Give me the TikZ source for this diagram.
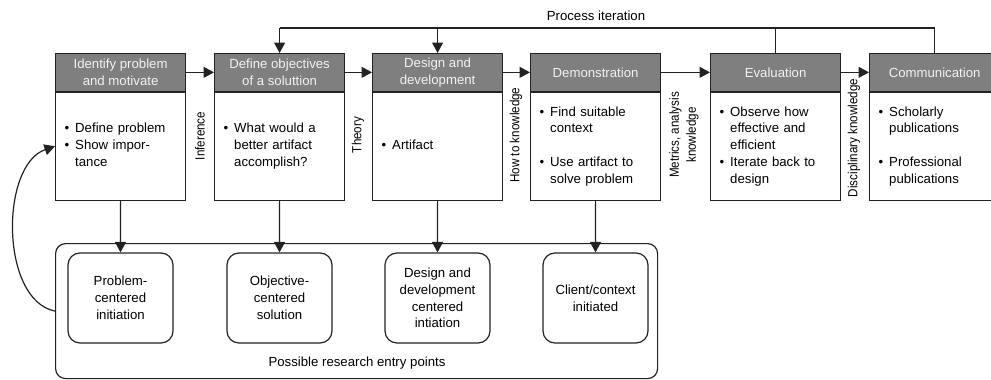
\documentclass[tikz,border=0pt]{standalone}
\usepackage{fontspec}
\setmainfont{Liberation Sans}
\usetikzlibrary{arrows.meta}

\definecolor{headgray}{HTML}{7F7F7F}
\definecolor{headtext}{HTML}{F2F2F2}
\definecolor{edge}{HTML}{222222}

\newcommand{\narrow}[1]{\scalebox{0.88}[1]{#1}}

\tikzset{
  line/.style={draw=edge, line width=1.2pt},
  tip/.style={line, -{Triangle[length=10.5pt,width=11pt]}},
  head/.style={line, fill=headgray, text=headtext, minimum width=130pt, minimum height=37.5pt,
    inner sep=0pt, anchor=north west, align=center},
  body/.style={line, text width=112pt, inner xsep=9pt, inner ysep=0pt, minimum height=108pt,
    anchor=north west, align=left},
  entry/.style={line, rounded corners=12pt, minimum width=105pt, minimum height=90pt,
    inner sep=2pt, align=center},
  side/.style={rotate=90, align=center, inner sep=0pt}
}

\begin{document}
\begin{tikzpicture}[x=1pt, y=-1pt, font=\fontsize{13.2}{16.8}\selectfont]

  \useasboundingbox (0,0) rectangle (991,380);

  % Headers of the six activities
  \node[head] (idh) at (55,53) {Identify problem\\and motivate};
  \node[head] (defh) at (214,53) {Define objectives\\of a soluttion};
  \node[head] (desh) at (372,53) {Design and\\development};
  \node[head] (demh) at (530,53) {Demonstration};
  \node[head] (evh) at (710,53) {Evaluation};
  \node[head] (comh) at (869,53) {Communication};

  % Bodies under the headers
  \node[body] (idb) at (idh.south west) {%
    \begin{tabular}{@{}l@{\hspace{6pt}}l@{}}
      \textbullet & Define problem\\
      \textbullet & Show impor-\\
                  & tance
    \end{tabular}};
  \node[body] (defb) at (defh.south west) {%
    \begin{tabular}{@{}l@{\hspace{6pt}}l@{}}
      \textbullet & What would a\\
                  & better artifact\\
                  & accomplish?
    \end{tabular}};
  \node[body] (desb) at (desh.south west) {%
    \begin{tabular}{@{}l@{\hspace{6pt}}l@{}}
      \textbullet & Artifact
    \end{tabular}};
  \node[body] (demb) at (demh.south west) {%
    \begin{tabular}{@{}l@{\hspace{6pt}}l@{}}
      \textbullet & Find suitable\\
                  & context\\
                  & \\
      \textbullet & Use artifact to\\
                  & solve problem
    \end{tabular}};
  \node[body] (evb) at (evh.south west) {%
    \begin{tabular}{@{}l@{\hspace{6pt}}l@{}}
      \textbullet & Observe how\\
                  & effective and\\
                  & efficient\\
      \textbullet & Iterate back to\\
                  & design
    \end{tabular}};
  \node[body] (comb) at (comh.south west) {%
    \begin{tabular}{@{}l@{\hspace{6pt}}l@{}}
      \textbullet & Scholarly\\
                  & publications\\
                  & \\
      \textbullet & Professional\\
                  & publications
    \end{tabular}};

  % Arrows between the headers
  \draw[tip] (idh.east) -- (defh.west);
  \draw[tip] (defh.east) -- (desh.west);
  \draw[tip] (desh.east) -- (demh.west);
  \draw[tip] (demh.east) -- (evh.west);
  \draw[tip] (evh.east) -- (comh.west);

  % Knowledge labels between the boxes
  \node[side] (inf) at (200,136) {\narrow{Inference}};
  \node[side] (thy) at (358,135) {\narrow{Theory}};
  \node[side] (how) at (516,135) {\narrow{How to knowledge}};
  \node[side] (met) at (684,135) {\narrow{\begin{tabular}{@{}c@{}}Metrics, analysis\\knowledge\end{tabular}}};
  \node[side] (dis) at (854,138) {\narrow{Disciplinary knowledge}};

  % Process iteration loop
  \coordinate (loop) at (596,28);
  \node (iter) at (596,16) {Process iteration};
  \draw[line] (comh.north) |- (defh.north |- loop);
  \draw[line] (evh.north) -- (evh.north |- loop);
  \draw[tip] (defh.north |- loop) -- (defh.north);
  \draw[tip] (desh.north |- loop) -- (desh.north);

  % Research entry points
  \node[line, rounded corners=10pt, minimum width=602pt, minimum height=135pt, anchor=north west]
    (entries) at (55,243) {};
  \node (epts) at (357,363) {Possible research entry points};

  \node[entry] (pci) at (120.5,298) {Problem-\\centered\\initiation};
  \node[entry] (ocs) at (279.5,298) {Objective-\\centered\\solution};
  \node[entry] (ddi) at (437.5,298) {Design and\\development\\centered\\intiation};
  \node[entry] (cci) at (595.5,298) {Client/context\\initiated};

  \draw[tip] (idb.south) -- (pci.north);
  \draw[tip] (defb.south) -- (ocs.north);
  \draw[tip] (desb.south) -- (ddi.north);
  \draw[tip] (demb.south) -- (cci.north);

  % Loop back to the first activity
  \draw[tip] (entries.west) .. controls (0,300) and (0,165) .. (idb.west);

\end{tikzpicture}
\end{document}
